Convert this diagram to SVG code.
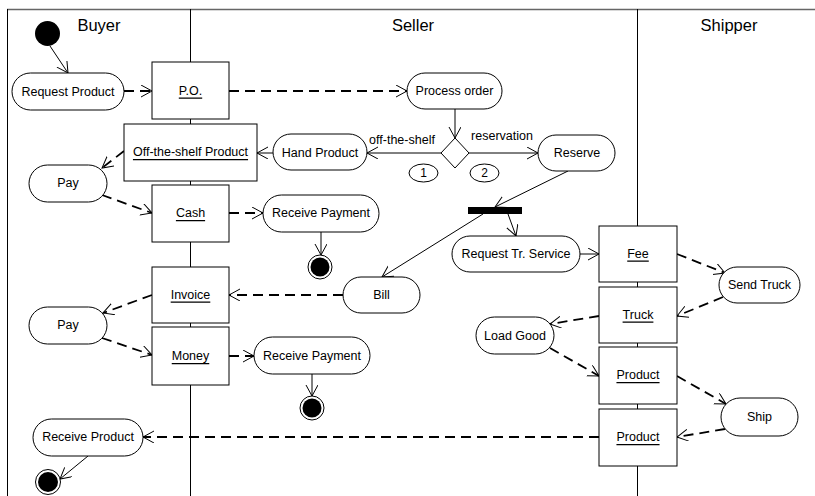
<svg xmlns="http://www.w3.org/2000/svg" width="815" height="496" viewBox="0 0 815 496">
<defs>
<style>
.lane{stroke:#000;stroke-width:1;fill:none}
.act{fill:#fff;stroke:#000;stroke-width:1}
.obj{fill:#fff;stroke:#000;stroke-width:1}
.t{font-family:"Liberation Sans",Arial,sans-serif;font-size:12.5px;fill:#000;text-anchor:middle;dominant-baseline:central}
.u{text-decoration:underline}
.lbl{font-family:"Liberation Sans",Arial,sans-serif;font-size:16.5px;fill:#000;text-anchor:middle}
.el{font-family:"Liberation Sans",Arial,sans-serif;font-size:12.5px;fill:#000;text-anchor:middle}
.s{stroke:#000;stroke-width:1;fill:none;marker-end:url(#ah)}
.d{stroke:#000;stroke-width:1.8;fill:none;stroke-dasharray:10,6;marker-end:url(#ah)}
</style>
<marker id="ah" markerUnits="userSpaceOnUse" markerWidth="14" markerHeight="14" refX="11" refY="6" orient="auto" viewBox="0 0 14 14">
<path d="M0,0 L11,6 L0,12" fill="none" stroke="#000" stroke-width="1" stroke-dasharray="none"/>
</marker>
</defs>
<rect width="815" height="496" fill="#fff"/>
<g id="lanes">
<line x1="7" y1="9.5" x2="815" y2="9.5" stroke="#666" stroke-width="1.5"/>
<line class="lane" x1="7.5" y1="9" x2="7.5" y2="496"/>
<line class="lane" x1="190.5" y1="9" x2="190.5" y2="496"/>
<line class="lane" x1="637.5" y1="9" x2="637.5" y2="496"/>
<text class="lbl" x="99" y="31">Buyer</text>
<text class="lbl" x="413" y="31">Seller</text>
<text class="lbl" x="729" y="31">Shipper</text>
</g>
<g id="connectors">
<path class="s" d="M50,46 L68,73"/>
<path class="d" d="M124,91 L152,91"/>
<path class="d" d="M229,91 L407,91"/>
<path class="s" d="M455,109 L455,138"/>
<path class="s" d="M441,153 L367,153"/>
<path class="s" d="M469,153 L538,153"/>
<path class="s" d="M273,153 L257,153"/>
<path class="d" d="M124,151 L102,168"/>
<path class="d" d="M102,195 L152,213"/>
<path class="d" d="M229,213 L263,213"/>
<path class="s" d="M321,232 L321,255"/>
<path class="s" d="M568,171 L495,207"/>
<path class="s" d="M483,214 L382,277"/>
<path class="s" d="M508,214 L516,236"/>
<path class="d" d="M343,295 L229,295"/>
<path class="d" d="M152,295 L103,313"/>
<path class="d" d="M102,338 L152,355"/>
<path class="d" d="M229,356 L254,356"/>
<path class="s" d="M312,374 L312,396"/>
<path class="s" d="M580,254 L599,254"/>
<path class="d" d="M677,254 L725,273"/>
<path class="d" d="M723,297 L677,316"/>
<path class="d" d="M599,316 L550,324"/>
<path class="d" d="M550,348 L599,376"/>
<path class="d" d="M677,376 L726,404"/>
<path class="d" d="M725,429 L677,437"/>
<path class="d" d="M599,437 L143,437"/>
<path class="s" d="M88,456 L60,479"/>
<text class="el" x="402" y="144">off-the-shelf</text>
<text class="el" x="502" y="140">reservation</text>
</g>
<g id="start"><circle cx="47.5" cy="33.5" r="12.5" fill="#000"/></g>
<g id="request-product"><rect class="act" x="12" y="73" width="112" height="37" rx="18.5"/><text class="t" x="68" y="91.5">Request Product</text></g>
<g id="po"><rect class="obj" x="152" y="62" width="77" height="57"/><text class="t u" x="190.5" y="90.5">P.O.</text></g>
<g id="process-order"><rect class="act" x="407" y="73" width="95" height="36" rx="18"/><text class="t" x="454.5" y="91">Process order</text></g>
<g id="decision"><polygon class="act" points="455,138 469,153 455,168 441,153"/></g>
<g id="g1"><ellipse class="act" cx="423.5" cy="173" rx="14.5" ry="9"/><text class="t" x="423.5" y="173" style="font-size:12px">1</text></g>
<g id="g2"><ellipse class="act" cx="484.5" cy="173" rx="14.5" ry="9"/><text class="t" x="484.5" y="173" style="font-size:12px">2</text></g>
<g id="hand-product"><rect class="act" x="273" y="134" width="94" height="36" rx="18"/><text class="t" x="320" y="152.5">Hand Product</text></g>
<g id="reserve"><rect class="act" x="538" y="135" width="77" height="36" rx="18"/><text class="t" x="577" y="153">Reserve</text></g>
<g id="off-the-shelf"><rect class="obj" x="124" y="124" width="133" height="57"/><text class="t u" x="190.5" y="152">Off-the-shelf Product</text></g>
<g id="pay1"><rect class="act" x="29" y="165" width="78" height="37" rx="18.5"/><text class="t" x="68" y="183">Pay</text></g>
<g id="cash"><rect class="obj" x="152" y="185" width="77" height="57"/><text class="t u" x="190.5" y="213">Cash</text></g>
<g id="receive-payment1"><rect class="act" x="263" y="195" width="116" height="37" rx="18.5"/><text class="t" x="321" y="213">Receive Payment</text></g>
<g id="end1"><circle cx="320" cy="267" r="12" fill="#fff" stroke="#000" stroke-width="1"/><circle cx="320" cy="267" r="9.5" fill="#000"/></g>
<g id="fork"><rect x="468" y="207" width="54" height="7" fill="#000"/></g>
<g id="request-tr"><rect class="act" x="452" y="236" width="128" height="36" rx="18"/><text class="t" x="516" y="254">Request Tr. Service</text></g>
<g id="bill"><rect class="act" x="343" y="277" width="77" height="36" rx="18"/><text class="t" x="381.5" y="295">Bill</text></g>
<g id="invoice"><rect class="obj" x="152" y="267" width="77" height="56"/><text class="t u" x="190.5" y="294.5">Invoice</text></g>
<g id="pay2"><rect class="act" x="29" y="307" width="78" height="37" rx="18.5"/><text class="t" x="68" y="325">Pay</text></g>
<g id="money"><rect class="obj" x="152" y="327" width="77" height="58"/><text class="t u" x="190.5" y="356">Money</text></g>
<g id="receive-payment2"><rect class="act" x="254" y="337" width="116" height="37" rx="18.5"/><text class="t" x="312" y="355.5">Receive Payment</text></g>
<g id="end2"><circle cx="312" cy="408" r="12" fill="#fff" stroke="#000" stroke-width="1"/><circle cx="312" cy="408" r="9.5" fill="#000"/></g>
<g id="fee"><rect class="obj" x="599" y="226" width="78" height="56"/><text class="t u" x="638" y="253.5">Fee</text></g>
<g id="send-truck"><rect class="act" x="719" y="267" width="81" height="36" rx="18"/><text class="t" x="759.5" y="285">Send Truck</text></g>
<g id="truck"><rect class="obj" x="599" y="287" width="78" height="56"/><text class="t u" x="638" y="314.5">Truck</text></g>
<g id="load-good"><rect class="act" x="476" y="317" width="78" height="37" rx="18.5"/><text class="t" x="515" y="335.5">Load Good</text></g>
<g id="product1"><rect class="obj" x="599" y="347" width="78" height="57"/><text class="t u" x="638" y="375">Product</text></g>
<g id="ship"><rect class="act" x="721" y="398" width="77" height="38" rx="19"/><text class="t" x="759.5" y="417">Ship</text></g>
<g id="product2"><rect class="obj" x="599" y="409" width="78" height="57"/><text class="t u" x="638" y="437">Product</text></g>
<g id="receive-product"><rect class="act" x="33" y="419" width="110" height="37" rx="18.5"/><text class="t" x="88" y="437">Receive Product</text></g>
<g id="end3"><circle cx="48" cy="482" r="12.5" fill="#fff" stroke="#000" stroke-width="1"/><circle cx="48" cy="482" r="10" fill="#000"/></g>
</svg>
